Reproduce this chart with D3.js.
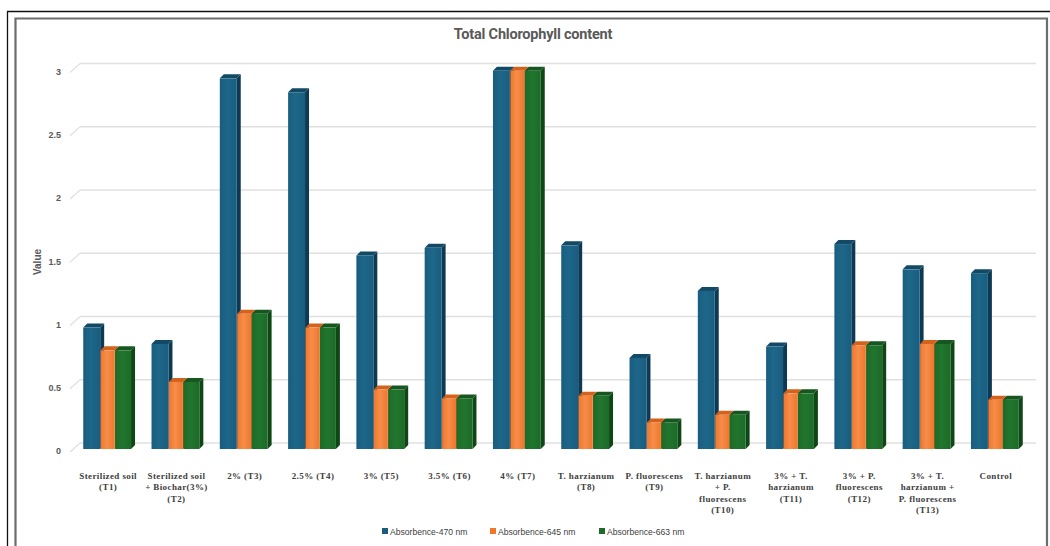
<!DOCTYPE html>
<html>
<head>
<meta charset="utf-8">
<script src="https://cdn.jsdelivr.net/npm/d3@7"></script>
<style>
  html, body { margin: 0; padding: 0; background: #fff; }
  svg { display: block; }
</style>
</head>
<body>
<svg id="chart" width="1050" height="546"></svg>
<script>
// Treatments (x categories) and their multi-line labels
const categories = ["T1","T2","T3","T4","T5","T6","T7","T8","T9","T10","T11","T12","T13","Control"];
const categoryLabels = [
  ["Sterilized soil", "(T1)"],
  ["Sterilized soil", "+ Biochar(3%)", "(T2)"],
  ["2% (T3)"],
  ["2.5% (T4)"],
  ["3% (T5)"],
  ["3.5% (T6)"],
  ["4% (T7)"],
  ["T. harzianum", "(T8)"],
  ["P. fluorescens", "(T9)"],
  ["T. harzianum", "+ P.", "fluorescens", "(T10)"],
  ["3% + T.", "harzianum", "(T11)"],
  ["3% + P.", "fluorescens", "(T12)"],
  ["3% + T.", "harzianum +", "P. fluorescens", "(T13)"],
  ["Control"]
];

// Absorbance readings per wavelength
const seriesNames = ["Absorbence-470 nm", "Absorbence-645 nm", "Absorbence-663 nm"];
const abs470 = [0.96, 0.83, 2.93, 2.82, 1.53, 1.59, 2.99, 1.61, 0.72, 1.25, 0.81, 1.62, 1.42, 1.39];
const abs645 = [0.78, 0.53, 1.07, 0.96, 0.47, 0.40, 2.99, 0.42, 0.21, 0.27, 0.44, 0.82, 0.83, 0.39];
const abs663 = [0.78, 0.53, 1.07, 0.96, 0.47, 0.40, 2.99, 0.42, 0.21, 0.27, 0.44, 0.82, 0.83, 0.39];
const seriesValues = [abs470, abs645, abs663];

const yTicks = [0, 0.5, 1, 1.5, 2, 2.5, 3];
const yTickLabels = ["0", "0.5", "1", "1.5", "2", "2.5", "3"];

// Face colours: front, highlight, side, top
const palette = [
  { front: "#185d7f", light: "#1e6789", side: "#0d3a52", top: "#124a66" },
  { front: "#ee772c", light: "#f68d4a", side: "#b85615", top: "#d4621c" },
  { front: "#1c6b28", light: "#21752e", side: "#0e4616", top: "#16561f" }
];

const svg = d3.select("#chart");

// Frame
svg.append("path")
  .attr("d", "M7.5,546 L7.5,11.5 L1050,11.5")
  .attr("fill", "none").attr("stroke", "#111").attr("stroke-width", 1.3);
svg.append("path")
  .attr("d", "M15.5,548 L15.5,18.5 L1047,18.5 L1047,548")
  .attr("fill", "none").attr("stroke", "#6d6d6d").attr("stroke-width", 2.2);

// Scales
const y = d3.scaleLinear().domain([0, 3]).range([449, 69.5]);
const x = d3.scaleBand().domain(categories).range([73, 1029])
  .paddingInner(0.3).paddingOuter(0.15);
const xs = d3.scaleBand().domain(seriesNames).range([0, x.bandwidth()]);

const barDX = 4, barDY = -4;        // bar depth
const wallRight = 1036;

// Gradients for bar fronts
const defs = svg.append("defs");
palette.forEach((c, i) => {
  const g = defs.append("linearGradient").attr("id", "g" + i)
    .attr("x1", "0").attr("x2", "1").attr("y1", "0").attr("y2", "0");
  g.append("stop").attr("offset", "0").attr("stop-color", c.front);
  g.append("stop").attr("offset", "0.45").attr("stop-color", c.light);
  g.append("stop").attr("offset", "1").attr("stop-color", c.front);
});

// Gridlines on back wall with short depth ticks
const grid = svg.append("g");
yTicks.forEach(v => {
  const yf = y(v) + 3, yb = y(v) - 6;
  grid.append("line")
    .attr("x1", 80).attr("x2", wallRight).attr("y1", yb).attr("y2", yb)
    .attr("stroke", "#e0e0e0").attr("stroke-width", 1.5);
  grid.append("line")
    .attr("x1", 70).attr("y1", yf).attr("x2", 80).attr("y2", yb)
    .attr("stroke", "#e0e0e0").attr("stroke-width", 1.2);
});

// Y tick labels
svg.append("g").selectAll("text").data(yTicks).join("text")
  .attr("x", 61).attr("y", v => y(v) + 3)
  .attr("text-anchor", "end").attr("dominant-baseline", "middle")
  .attr("font-family", "Liberation Sans, Arial, sans-serif")
  .attr("font-size", 9).attr("font-weight", "bold").attr("fill", "#595959")
  .text((v, i) => yTickLabels[i]);

// Y axis title
svg.append("text")
  .attr("transform", "translate(41,262) rotate(-90)")
  .attr("text-anchor", "middle")
  .attr("font-family", "Liberation Sans, Arial, sans-serif")
  .attr("font-size", 10).attr("font-weight", "bold").attr("fill", "#595959")
  .text("Value");

// Title
svg.append("text")
  .attr("x", 533).attr("y", 39).attr("text-anchor", "middle")
  .attr("font-family", "Roboto, Liberation Sans, sans-serif")
  .attr("font-size", 14.5).attr("font-weight", "bold").attr("fill", "#595959")
  .attr("letter-spacing", "-0.2")
  .text("Total Chlorophyll content");

// 3D bars (middle series drawn slightly narrower, tucked between its neighbours)
const bars = svg.append("g");
categories.forEach((cat, ci) => {
  seriesNames.forEach((s, si) => {
    const v = seriesValues[si][ci];
    let x0 = x(cat) + xs(s);
    let w = xs.bandwidth();
    if (si === 0) w += 1;
    if (si === 1) { x0 += 1.5; w -= 2; }
    const yt = y(v), yb = y(0);
    const c = palette[si];
    const g = bars.append("g");
    g.append("polygon")
      .attr("points", [[x0 + w, yt], [x0 + w + barDX, yt + barDY], [x0 + w + barDX, yb + barDY], [x0 + w, yb]].join(" "))
      .attr("fill", c.side);
    g.append("polygon")
      .attr("points", [[x0, yt], [x0 + barDX, yt + barDY], [x0 + w + barDX, yt + barDY], [x0 + w, yt]].join(" "))
      .attr("fill", c.top);
    g.append("rect")
      .attr("x", x0).attr("y", yt).attr("width", w).attr("height", yb - yt)
      .attr("fill", `url(#g${si})`);
  });
});

// X category labels
const xl = svg.append("g")
  .attr("font-family", "Liberation Serif, Times New Roman, serif")
  .attr("font-size", 9).attr("font-weight", "bold").attr("fill", "#404040")
  .attr("letter-spacing", "0.4");
categories.forEach((cat, ci) => {
  const cx = x(cat) + x.bandwidth() / 2 + 1;
  const t = xl.append("text").attr("text-anchor", "middle");
  categoryLabels[ci].forEach((line, li) => {
    t.append("tspan").attr("x", cx).attr("y", 479 + li * 11.3).text(line);
  });
});

// Legend
const legendX = [382, 490, 599];
const lg = svg.append("g")
  .attr("font-family", "Liberation Sans, Arial, sans-serif")
  .attr("font-size", 8.6).attr("fill", "#404040");
seriesNames.forEach((s, i) => {
  lg.append("rect").attr("x", legendX[i]).attr("y", 528).attr("width", 6).attr("height", 6)
    .attr("fill", palette[i].front);
  lg.append("text").attr("x", legendX[i] + 8).attr("y", 534.5).text(s);
});
</script>
</body>
</html>
